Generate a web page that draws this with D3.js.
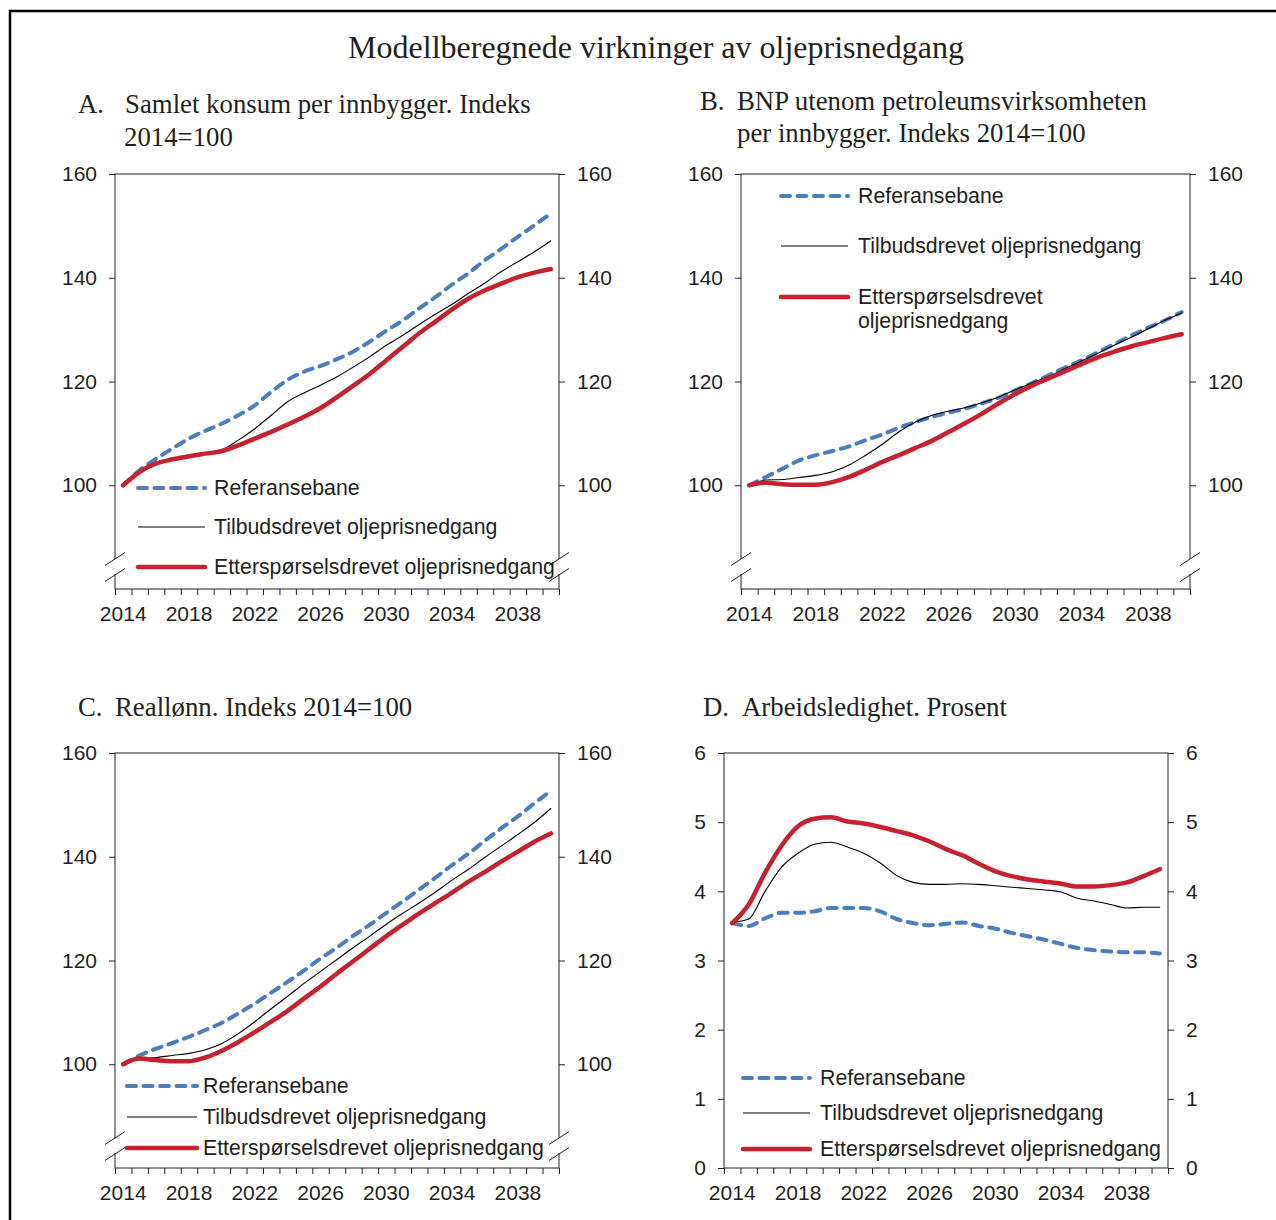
<!DOCTYPE html>
<html>
<head>
<meta charset="utf-8">
<script src="https://cdn.jsdelivr.net/npm/d3@7"></script>
<style>
  body { margin: 0; background: #fff; }
  svg { display: block; }
</style>
</head>
<body>
<svg id="chart" width="1276" height="1220"></svg>
<script>
// categories and ticks
const years = d3.range(2014, 2041);
const yearLabels = [2014, 2018, 2022, 2026, 2030, 2034, 2038];
const indexTicks = [100, 120, 140, 160];
const pctTicks = [0, 1, 2, 3, 4, 5, 6];
const seriesNames = ['Referansebane', 'Tilbudsdrevet oljeprisnedgang', 'Etterspørselsdrevet oljeprisnedgang'];

// A. Samlet konsum per innbygger
const konsumRef    = [100, 102.9, 105.1, 107.1, 109, 110.5, 111.9, 113.5, 115.4, 118, 120.3, 121.9, 123, 124.3, 125.8, 127.7, 129.8, 131.8, 134.1, 136.3, 138.7, 140.9, 143.4, 145.6, 147.9, 150.1, 152.4];
const konsumTilbud = [100, 102.8, 104.4, 105.1, 105.7, 106.2, 106.8, 108.7, 110.9, 113.5, 116.1, 117.8, 119.3, 120.9, 122.8, 124.8, 127, 128.9, 131, 133, 134.9, 137, 139, 141.2, 143.1, 145, 147.1];
const konsumEtter  = [100, 102.6, 104.2, 105, 105.6, 106.1, 106.6, 107.7, 109, 110.3, 111.7, 113.2, 114.9, 117, 119.2, 121.5, 124.1, 126.7, 129.3, 131.6, 133.9, 136, 137.6, 138.9, 140.1, 141, 141.7];

// B. BNP utenom petroleumsvirksomheten per innbygger
const bnpRef    = [100, 101.6, 103.2, 104.8, 105.8, 106.6, 107.5, 108.7, 109.8, 111.1, 112.2, 113.2, 114, 114.8, 115.8, 116.9, 118.3, 119.7, 121.2, 122.7, 124.1, 125.7, 127.3, 128.9, 130.4, 131.8, 133.4];
const bnpTilbud = [100, 101, 101.1, 101.5, 101.9, 102.6, 103.9, 105.8, 107.9, 110.3, 112.2, 113.5, 114.3, 115, 115.9, 117, 118.4, 119.7, 121, 122.5, 124, 125.5, 127.1, 128.6, 130.2, 131.8, 133.2];
const bnpEtter  = [100, 100.5, 100.2, 100.1, 100.1, 100.6, 101.6, 103, 104.5, 105.8, 107.2, 108.6, 110.3, 112, 113.8, 115.8, 117.6, 119.2, 120.6, 122, 123.4, 124.7, 125.8, 126.8, 127.6, 128.4, 129.1];

// C. Reallønn
const lonnRef    = [100, 101.7, 103, 104.1, 105.3, 106.6, 108, 109.8, 111.7, 113.8, 115.9, 118.1, 120.4, 122.5, 124.8, 126.9, 129.2, 131.4, 133.7, 136, 138.4, 140.6, 143.1, 145.5, 147.8, 150.3, 152.7];
const lonnTilbud = [100, 101, 101.3, 101.7, 102.1, 102.8, 104, 105.9, 108.2, 110.7, 113.1, 115.6, 117.9, 120.2, 122.5, 124.7, 127, 129.1, 131.1, 133.2, 135.5, 137.6, 139.9, 142.1, 144.3, 146.6, 149.3];
const lonnEtter  = [100, 101.1, 100.8, 100.6, 100.6, 101.3, 102.6, 104.3, 106.2, 108.2, 110.3, 112.7, 115, 117.5, 119.9, 122.3, 124.7, 126.9, 129.1, 131.1, 133.1, 135.2, 137.1, 139.1, 141, 142.9, 144.5];

// D. Arbeidsledighet, prosent
const ledigRef    = [3.54, 3.5, 3.61, 3.69, 3.69, 3.71, 3.76, 3.76, 3.76, 3.71, 3.6, 3.54, 3.51, 3.53, 3.55, 3.5, 3.46, 3.4, 3.35, 3.3, 3.24, 3.18, 3.15, 3.13, 3.12, 3.12, 3.1];
const ledigTilbud = [3.55, 3.6, 4.0, 4.35, 4.55, 4.68, 4.71, 4.64, 4.55, 4.41, 4.23, 4.13, 4.1, 4.1, 4.11, 4.1, 4.08, 4.06, 4.04, 4.02, 3.99, 3.9, 3.86, 3.81, 3.76, 3.77, 3.77];
const ledigEtter  = [3.54, 3.81, 4.27, 4.66, 4.94, 5.05, 5.07, 5.01, 4.98, 4.93, 4.87, 4.81, 4.72, 4.61, 4.52, 4.4, 4.29, 4.22, 4.17, 4.14, 4.11, 4.07, 4.07, 4.09, 4.13, 4.22, 4.32];

const serif = '"Liberation Serif", "Times New Roman", serif';
const sans = '"Liberation Sans", Arial, sans-serif';
const ink = '#231f20';

const styles = [
  { stroke: '#4a7ebf', width: 4, dash: '9 7.5' },
  { stroke: '#000', width: 1.1, dash: null },
  { stroke: '#c8202e', width: 4.5, dash: null }
];

const panels = [
  {
    box: { left: 115, right: 559, top: 174, bottom: 589 },
    domain: [80, 160], ticks: indexTicks, brk: true,
    title: [['A.', 78, 113], ['Samlet konsum per innbygger. Indeks', 125, 113], ['2014=100', 124, 146]],
    legend: { x1: 138, x2: 205, tx: 214, ys: [488, 527, 567] },
    series: [konsumRef, konsumTilbud, konsumEtter]
  },
  {
    box: { left: 741, right: 1190, top: 174, bottom: 589 },
    domain: [80, 160], ticks: indexTicks, brk: true,
    title: [['B.', 700, 110], ['BNP utenom petroleumsvirksomheten', 737, 110], ['per innbygger. Indeks 2014=100', 737, 142]],
    legend: { x1: 781, x2: 848, tx: 858, ys: [196, 246, 297], wrap: 321 },
    series: [bnpRef, bnpTilbud, bnpEtter]
  },
  {
    box: { left: 115, right: 559, top: 753, bottom: 1168 },
    domain: [80, 160], ticks: indexTicks, brk: true,
    title: [['C.', 78, 716], ['Reallønn. Indeks 2014=100', 115, 716]],
    legend: { x1: 127, x2: 197, tx: 203, ys: [1086, 1117, 1148] },
    series: [lonnRef, lonnTilbud, lonnEtter]
  },
  {
    box: { left: 724, right: 1168, top: 753, bottom: 1168 },
    domain: [0, 6], ticks: pctTicks, brk: false,
    title: [['D.', 703, 716], ['Arbeidsledighet. Prosent', 742, 716]],
    legend: { x1: 743, x2: 810, tx: 820, ys: [1078, 1113, 1149] },
    series: [ledigRef, ledigTilbud, ledigEtter]
  }
];

const svg = d3.select('#chart');

// outer frame (runs off the right and bottom edge)
svg.append('rect')
  .attr('x', 10).attr('y', 11)
  .attr('width', 1300).attr('height', 1300)
  .attr('fill', 'none').attr('stroke', '#000').attr('stroke-width', 2.5);

svg.append('text')
  .attr('x', 656).attr('y', 58)
  .attr('text-anchor', 'middle')
  .attr('font-family', serif).attr('font-size', 32).attr('fill', ink)
  .text('Modellberegnede virkninger av oljeprisnedgang');

panels.forEach(p => drawPanel(p));

function drawPanel(p) {
  const b = p.box;
  const g = svg.append('g');

  const x = d3.scaleBand().domain(years).range([b.left, b.right]).paddingInner(0).paddingOuter(0);
  const y = d3.scaleLinear().domain(p.domain).range([b.bottom, b.top]);
  const cx = d => x(d) + x.bandwidth() / 2;

  // titles
  p.title.forEach(([t, tx, ty]) => {
    g.append('text')
      .attr('x', tx).attr('y', ty)
      .attr('font-family', serif).attr('font-size', 26.8).attr('fill', ink)
      .text(t);
  });

  // y axes, left and right
  const yl = g.append('g').attr('transform', `translate(${b.left},0)`)
    .call(d3.axisLeft(y).tickValues(p.ticks).tickSize(6).tickPadding(12).tickFormat(d3.format('d')));
  const yr = g.append('g').attr('transform', `translate(${b.right},0)`)
    .call(d3.axisRight(y).tickValues(p.ticks).tickSize(6).tickPadding(12).tickFormat(d3.format('d')));

  // x axis: tick marks on band edges, labels on band centres
  const edges = years.map(d => x(d)).concat([b.right]);
  const xe = g.append('g').attr('transform', `translate(0,${b.bottom})`)
    .call(d3.axisBottom(d3.scaleIdentity()).tickValues(edges).tickSize(6).tickFormat(''));
  const xl = g.append('g').attr('transform', `translate(0,${b.bottom})`)
    .call(d3.axisBottom(x).tickValues(yearLabels).tickSize(0).tickPadding(17));

  [yl, yr, xe, xl].forEach(a => {
    a.select('.domain').remove();
    a.selectAll('line').attr('stroke', ink);
    a.selectAll('text').attr('font-family', sans).attr('font-size', 21).attr('fill', ink);
  });

  // plot frame
  g.append('rect')
    .attr('x', b.left).attr('y', b.top)
    .attr('width', b.right - b.left).attr('height', b.bottom - b.top)
    .attr('fill', 'none').attr('stroke', ink).attr('stroke-width', 1);

  // axis break marks
  if (p.brk) {
    [b.left, b.right].forEach(ax => {
      g.append('rect')
        .attr('x', ax - 3).attr('y', b.bottom - 30).attr('width', 6).attr('height', 15)
        .attr('fill', '#fff');
      [b.bottom - 30, b.bottom - 14].forEach(cy => {
        g.append('line')
          .attr('x1', ax - 10).attr('y1', cy + 6.5)
          .attr('x2', ax + 10).attr('y2', cy - 6.5)
          .attr('stroke', ink).attr('stroke-width', 1);
      });
    });
  }

  // lines
  const line = d3.line()
    .x((d, i) => cx(years[i]))
    .y(d => y(d))
    .curve(d3.curveMonotoneX);

  p.series.forEach((s, i) => {
    const st = styles[i];
    g.append('path')
      .datum(s)
      .attr('d', line)
      .attr('fill', 'none')
      .attr('stroke', st.stroke)
      .attr('stroke-width', st.width)
      .attr('stroke-linecap', 'round')
      .attr('stroke-linejoin', 'round')
      .attr('stroke-dasharray', st.dash);
  });

  // legend
  const lg = p.legend;
  seriesNames.forEach((name, i) => {
    const st = styles[i];
    const ly = lg.ys[i];
    g.append('line')
      .attr('x1', lg.x1).attr('x2', lg.x2)
      .attr('y1', ly).attr('y2', ly)
      .attr('stroke', st.stroke)
      .attr('stroke-width', st.width)
      .attr('stroke-linecap', i === 1 ? 'butt' : 'round')
      .attr('stroke-dasharray', st.dash);
    const t = g.append('text')
      .attr('x', lg.tx).attr('y', ly)
      .attr('dy', '0.35em')
      .attr('font-family', sans).attr('font-size', 21.3).attr('fill', ink);
    if (lg.wrap && i === 2) {
      t.text('Etterspørselsdrevet');
      g.append('text')
        .attr('x', lg.tx).attr('y', lg.wrap).attr('dy', '0.35em')
        .attr('font-family', sans).attr('font-size', 21.3).attr('fill', ink)
        .text('oljeprisnedgang');
    } else {
      t.text(name);
    }
  });
}
</script>
</body>
</html>
